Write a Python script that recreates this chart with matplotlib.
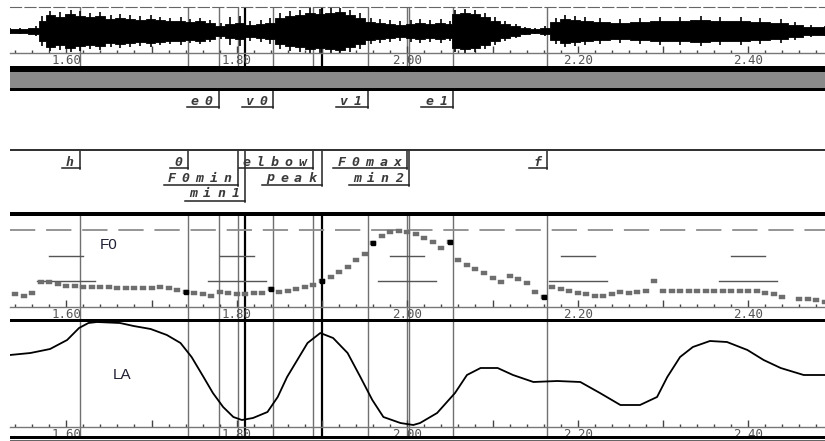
import numpy as np
import matplotlib
matplotlib.use('Agg')
import matplotlib.pyplot as plt
from matplotlib.patches import Rectangle
from matplotlib.ticker import MultipleLocator, FuncFormatter

W, H = 825, 441
T0, T1 = 1.534, 2.490  # visible time window (s)

# --- waveform envelope (arbitrary amplitude units) ---
wave_t = [1.534, 1.546, 1.564, 1.572, 1.581, 1.593, 1.605, 1.616, 1.628, 1.640,
          1.652, 1.663, 1.675, 1.687, 1.699, 1.710, 1.722, 1.734, 1.745, 1.757,
          1.769, 1.781, 1.792, 1.804, 1.816, 1.828, 1.839, 1.851, 1.863, 1.874,
          1.886, 1.898, 1.910, 1.921, 1.933, 1.945, 1.957, 1.968, 1.980, 1.992,
          2.004, 2.015, 2.027, 2.039, 2.050, 2.056, 2.068, 2.080, 2.091, 2.103,
          2.115, 2.127, 2.138, 2.150, 2.162, 2.174, 2.185, 2.197, 2.209, 2.226,
          2.250, 2.273, 2.297, 2.320, 2.344, 2.367, 2.391, 2.414, 2.438, 2.455,
          2.473, 2.490]
wave_core = [2, 2, 3, 10, 16, 14, 17, 15, 14, 15,
             12, 13, 12, 11, 12, 11, 10, 10, 9, 10,
             8, 5, 7, 8, 6, 7, 8, 13, 15, 16,
             18, 17, 18, 19, 16, 13, 9, 8, 7, 6,
             7, 8, 7, 8, 7, 17, 18, 17, 14, 10,
             7, 5, 3, 2, 3, 9, 12, 11, 10, 9,
             8, 9, 10, 10, 11, 10, 10, 9, 8, 6,
             4, 4]
wave_peak = [3, 3, 5, 15, 20, 19, 21, 20, 18, 19,
             16, 17, 16, 15, 16, 14, 13, 14, 12, 13,
             11, 8, 14, 15, 10, 11, 13, 18, 20, 21,
             23, 22, 23, 23, 21, 18, 13, 12, 11, 10,
             11, 12, 11, 12, 10, 21, 22, 21, 18, 14,
             10, 7, 4, 3, 5, 13, 16, 15, 14, 13,
             12, 13, 14, 14, 15, 14, 14, 13, 12, 9,
             6, 5]

# --- F0 track (Hz), 10 ms frames ---
f0_t = [1.54, 1.55, 1.56, 1.57, 1.58, 1.59, 1.60, 1.61, 1.62, 1.63,
        1.64, 1.65, 1.66, 1.67, 1.68, 1.69, 1.70, 1.71, 1.72, 1.73,
        1.74, 1.75, 1.76, 1.77, 1.78, 1.79, 1.80, 1.81, 1.82, 1.83,
        1.84, 1.85, 1.86, 1.87, 1.88, 1.89, 1.90, 1.91, 1.92, 1.93,
        1.94, 1.95, 1.96, 1.97, 1.98, 1.99, 2.00, 2.01, 2.02, 2.03,
        2.04, 2.05, 2.06, 2.07, 2.08, 2.09, 2.10, 2.11, 2.12, 2.13,
        2.14, 2.15, 2.16, 2.17, 2.18, 2.19, 2.20, 2.21, 2.22, 2.23,
        2.24, 2.25, 2.26, 2.27, 2.28, 2.29, 2.30, 2.31, 2.32, 2.33,
        2.34, 2.35, 2.36, 2.37, 2.38, 2.39, 2.40, 2.41, 2.42, 2.43,
        2.44, 2.46, 2.47, 2.48, 2.49]
f0_hz = [148, 144, 150, 172, 172, 168, 164, 164, 162, 162,
         162, 162, 160, 160, 160, 160, 160, 162, 160, 156,
         152, 150, 148, 144, 152, 150, 148, 148, 150, 150,
         158, 152, 154, 158, 162, 166, 174, 182, 192, 202,
         216, 228, 250, 264, 272, 274, 272, 268, 260, 252,
         240, 252, 216, 206, 198, 190, 180, 172, 184, 178,
         170, 152, 142, 162, 158, 154, 150, 148, 144, 144,
         148, 152, 150, 152, 154, 174, 154, 154, 154, 154,
         154, 154, 154, 154, 154, 154, 154, 154, 150, 148,
         142, 138, 138, 136, 132]
f0_landmarks = [1.74, 1.84, 1.90, 1.96, 2.05, 2.16]
f0_ref_dashed = 276
f0_ref_levels = [224, 174]

# --- lip aperture (LA) ---
la_t = [1.534, 1.558, 1.581, 1.601, 1.615, 1.626, 1.636, 1.663, 1.679, 1.699,
        1.718, 1.734, 1.747, 1.761, 1.772, 1.784, 1.796, 1.806, 1.819, 1.836,
        1.848, 1.859, 1.871, 1.883, 1.898, 1.913, 1.930, 1.945, 1.959, 1.972,
        1.992, 2.007, 2.015, 2.035, 2.056, 2.070, 2.086, 2.106, 2.124, 2.148,
        2.176, 2.203, 2.226, 2.250, 2.273, 2.293, 2.305, 2.320, 2.335, 2.355,
        2.375, 2.399, 2.418, 2.438, 2.465, 2.490]
la_mm = [7.2, 7.4, 7.8, 8.7, 9.9, 10.4, 10.5, 10.4, 10.1, 9.8,
         9.2, 8.4, 7.0, 5.0, 3.4, 2.0, 1.0, 0.7, 0.9, 1.5,
         3.0, 5.0, 6.7, 8.4, 9.4, 8.9, 7.4, 5.0, 2.7, 1.0,
         0.4, 0.2, 0.4, 1.4, 3.4, 5.2, 5.9, 5.9, 5.2, 4.5,
         4.6, 4.5, 3.4, 2.2, 2.2, 3.0, 5.0, 7.0, 8.0, 8.6,
         8.5, 7.7, 6.7, 5.9, 5.2, 5.2]

# --- label tiers ---
tier1_labels = ['e0', 'v0', 'v1', 'e1']
tier1_times = [1.779, 1.843, 1.954, 2.054]
tier2_labels = ['h', '0', 'F0min', 'min1', 'elbow', 'peak', 'F0max', 'min2', 'f']
tier2_times = [1.616, 1.743, 1.801, 1.810, 1.889, 1.900, 2.000, 2.002, 2.164]
tier2_rows = [0, 0, 1, 2, 0, 1, 0, 1, 0]
bold_marks = ['min1', 'peak']

boundaries = list(zip(tier1_labels + tier2_labels, tier1_times + tier2_times))

fig = plt.figure(figsize=(W / 100, H / 100), dpi=100)


def box(y0, y1):
    return [10 / W, 1 - y1 / H, (W - 10) / W, (y1 - y0) / H]


def band(y0, y1, color):
    fig.add_artist(Rectangle((10 / W, 1 - y1 / H), (W - 10) / W, (y1 - y0) / H,
                             transform=fig.transFigure, color=color, lw=0))


def time_axis(ax, spine_y):
    for s in ['left', 'right', 'top']:
        ax.spines[s].set_visible(False)
    ax.spines['bottom'].set_position(('data', spine_y))
    ax.spines['bottom'].set_color('#777777')
    ax.spines['bottom'].set_linewidth(1.0)
    ax.set_xlim(T0, T1)
    ax.set_yticks([])
    ax.xaxis.set_major_locator(MultipleLocator(0.1))
    ax.xaxis.set_minor_locator(MultipleLocator(0.02))
    ax.xaxis.set_major_formatter(FuncFormatter(
        lambda v, p: f'{v:.2f}' if abs(v / 0.2 - round(v / 0.2)) < 1e-6 else ''))
    ax.tick_params(axis='x', which='major', direction='in', length=5, width=1,
                   color='#444444', labelsize=9, pad=1, labelcolor='#555555')
    ax.tick_params(axis='x', which='minor', direction='in', length=2.5, width=1,
                   color='#444444')
    for lab in ax.get_xticklabels():
        lab.set_family('DejaVu Sans Mono')
    for name, t in boundaries:
        if name in bold_marks:
            ax.axvline(t, color='black', lw=1.6, zorder=1)
        else:
            ax.axvline(t, color='#707070', lw=1.0, zorder=1)


# waveform
ax_w = fig.add_axes(box(7, 66))
ax_w.set_ylim(-35, 24)
time_axis(ax_w, -22)
ax_w.spines['top'].set_visible(True)
ax_w.spines['top'].set_linestyle((0, (10, 3)))
ax_w.spines['top'].set_color('#666666')
core = np.array(wave_core)
peak = np.array(wave_peak)
ax_w.fill_between(wave_t, -core, core, color='black', lw=0.6, step='mid', zorder=2)
ax_w.vlines(wave_t, -peak, peak, color='black', lw=1.2, zorder=2)
ax_w.plot(wave_t, np.zeros(len(wave_t)), color='black', lw=1.0, zorder=2)

# separator bands
band(66, 72, 'black')
band(72, 88, '#8a8a8a')
band(88, 91, 'black')
band(148.5, 150.5, '#333333')
band(212, 216, 'black')
band(319, 322, 'black')
band(436, 438.5, 'black')
band(439.5, 441, '#666666')

# label tiers (y in pixel rows)
ax_t = fig.add_axes(box(91, 213))
ax_t.set_xlim(T0, T1)
ax_t.set_ylim(213, 91)
ax_t.axis('off')
pitch = 14 * (T1 - T0) / (W - 10)


def tier_label(text, t, top, ytext, yline):
    n = len(text)
    right = t - 3 * (T1 - T0) / (W - 10)
    for i, ch in enumerate(text):
        xc = right - pitch * (n - i - 0.5)
        ax_t.text(xc, ytext, ch, ha='center', va='center', fontsize=9.5,
                  family='DejaVu Sans Mono', weight='bold', style='italic',
                  color='#3a3a3a')
    ax_t.plot([right - pitch * n - 0.001, t], [yline, yline], color='#222222', lw=1.1)
    ax_t.plot([t, t], [top, yline + 1], color='#222222', lw=1.1)


for lab, t in zip(tier1_labels, tier1_times):
    tier_label(lab, t, 91, 102, 107)
row_text = [162, 178, 194]
row_line = [168, 185, 201]
for lab, t, r in zip(tier2_labels, tier2_times, tier2_rows):
    tier_label(lab, t, 150, row_text[r], row_line[r])

# F0 panel
ax_f = fig.add_axes(box(216, 320))
ax_f.set_ylim(96, 304)
time_axis(ax_f, 122)
ax_f.axhline(f0_ref_dashed, color='#8c8c8c', lw=1.3, dashes=(14, 6), zorder=1)
for lvl, half in zip(f0_ref_levels, [0.020, 0.034]):
    for tc in [1.6, 1.8, 2.0, 2.2, 2.4]:
        ax_f.plot([tc - half, tc + half], [lvl, lvl], color='#555555', lw=1.0, zorder=1)
rect = [(-1, -0.65), (1, -0.65), (1, 0.65), (-1, 0.65), (-1, -0.65)]
ax_f.plot(f0_t, f0_hz, ls='none', marker=rect, ms=4.6, color='#6e6e6e',
          mec='#6e6e6e', mew=0.3, zorder=3)
lm_idx = [f0_t.index(t) for t in f0_landmarks]
ax_f.plot([f0_t[i] for i in lm_idx], [f0_hz[i] for i in lm_idx], ls='none',
          marker='s', ms=2.8, color='black', zorder=4)
ax_f.text(0.121, 0.72, 'F0', transform=ax_f.transAxes, fontsize=11,
          family='Liberation Sans', color='#202035', ha='center', va='center')

# LA panel
ax_l = fig.add_axes(box(320, 437))
ax_l.set_ylim(-1.0, 10.7)
time_axis(ax_l, 0)
ax_l.plot(la_t, la_mm, color='black', lw=1.3, zorder=3)
ax_l.text(0.137, 0.53, 'LA', transform=ax_l.transAxes, fontsize=11,
          family='Liberation Sans', color='#202035', ha='center', va='center')

fig.savefig('out.png', dpi=100)
